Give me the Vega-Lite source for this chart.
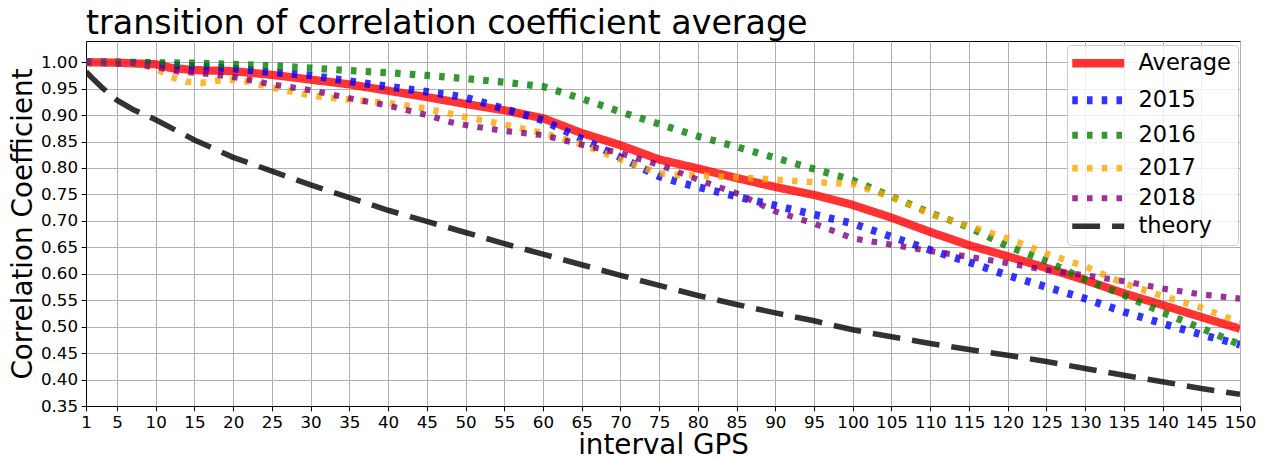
{
  "$schema": "https://vega.github.io/schema/vega-lite/v6.json",
  "width": 1154,
  "height": 365,
  "autosize": {"type": "none"},
  "padding": {"left": 86, "top": 41, "right": 25, "bottom": 53},
  "title": {"text": "transition of correlation coefficient average", "anchor": "start", "frame": "group", "font": "DejaVu Sans", "fontSize": 33.3, "fontWeight": "normal", "color": "black", "baseline": "alphabetic", "offset": 8, "dy": 34},
  "config": {
    "view": {"stroke": "black", "strokeWidth": 1},
    "font": "DejaVu Sans",
    "axis": {"labelFont": "DejaVu Sans", "labelFontSize": 16.7, "labelColor": "black", "labelOverlap": false, "labelFlush": false, "titleFont": "DejaVu Sans", "titleFontSize": 27.8, "titleFontWeight": "normal", "titleColor": "black", "domainColor": "black", "domainWidth": 1, "tickColor": "black", "tickSize": 4.9, "tickWidth": 1, "gridColor": "#b0b0b0", "gridWidth": 1, "gridOpacity": 1, "labelPadding": 3.5}
  },
  "data": {"values": [
    {"s":"Average","x":1,"y":1.0},{"s":"Average","x":5,"y":0.999},{"s":"Average","x":10,"y":0.996},{"s":"Average","x":12,"y":0.989},{"s":"Average","x":15,"y":0.985},{"s":"Average","x":20,"y":0.983},{"s":"Average","x":25,"y":0.976},{"s":"Average","x":30,"y":0.967},{"s":"Average","x":35,"y":0.958},{"s":"Average","x":40,"y":0.946},{"s":"Average","x":45,"y":0.934},{"s":"Average","x":50,"y":0.921},{"s":"Average","x":55,"y":0.909},{"s":"Average","x":60,"y":0.894},{"s":"Average","x":65,"y":0.866},{"s":"Average","x":70,"y":0.843},{"s":"Average","x":75,"y":0.816},{"s":"Average","x":80,"y":0.799},{"s":"Average","x":85,"y":0.781},{"s":"Average","x":90,"y":0.764},{"s":"Average","x":95,"y":0.749},{"s":"Average","x":100,"y":0.73},{"s":"Average","x":105,"y":0.706},{"s":"Average","x":110,"y":0.679},{"s":"Average","x":115,"y":0.654},{"s":"Average","x":120,"y":0.633},{"s":"Average","x":125,"y":0.611},{"s":"Average","x":130,"y":0.588},{"s":"Average","x":135,"y":0.563},{"s":"Average","x":140,"y":0.541},{"s":"Average","x":145,"y":0.518},{"s":"Average","x":150,"y":0.496},
    {"s":"2015","x":1,"y":1.0},{"s":"2015","x":5,"y":0.999},{"s":"2015","x":10,"y":0.996},{"s":"2015","x":15,"y":0.992},{"s":"2015","x":20,"y":0.988},{"s":"2015","x":25,"y":0.981},{"s":"2015","x":30,"y":0.975},{"s":"2015","x":35,"y":0.964},{"s":"2015","x":40,"y":0.954},{"s":"2015","x":45,"y":0.944},{"s":"2015","x":48,"y":0.938},{"s":"2015","x":50,"y":0.933},{"s":"2015","x":55,"y":0.912},{"s":"2015","x":60,"y":0.89},{"s":"2015","x":65,"y":0.855},{"s":"2015","x":70,"y":0.82},{"s":"2015","x":75,"y":0.784},{"s":"2015","x":78,"y":0.771},{"s":"2015","x":80,"y":0.764},{"s":"2015","x":85,"y":0.746},{"s":"2015","x":90,"y":0.729},{"s":"2015","x":95,"y":0.712},{"s":"2015","x":100,"y":0.695},{"s":"2015","x":105,"y":0.67},{"s":"2015","x":110,"y":0.645},{"s":"2015","x":115,"y":0.622},{"s":"2015","x":120,"y":0.597},{"s":"2015","x":125,"y":0.575},{"s":"2015","x":130,"y":0.553},{"s":"2015","x":135,"y":0.528},{"s":"2015","x":140,"y":0.506},{"s":"2015","x":145,"y":0.485},{"s":"2015","x":150,"y":0.466},
    {"s":"2016","x":1,"y":1.0},{"s":"2016","x":5,"y":1.0},{"s":"2016","x":10,"y":0.999},{"s":"2016","x":15,"y":0.998},{"s":"2016","x":20,"y":0.996},{"s":"2016","x":25,"y":0.993},{"s":"2016","x":30,"y":0.989},{"s":"2016","x":35,"y":0.984},{"s":"2016","x":40,"y":0.98},{"s":"2016","x":45,"y":0.975},{"s":"2016","x":50,"y":0.969},{"s":"2016","x":55,"y":0.962},{"s":"2016","x":60,"y":0.954},{"s":"2016","x":65,"y":0.931},{"s":"2016","x":70,"y":0.906},{"s":"2016","x":75,"y":0.883},{"s":"2016","x":80,"y":0.86},{"s":"2016","x":85,"y":0.84},{"s":"2016","x":90,"y":0.819},{"s":"2016","x":95,"y":0.798},{"s":"2016","x":100,"y":0.777},{"s":"2016","x":105,"y":0.746},{"s":"2016","x":110,"y":0.715},{"s":"2016","x":115,"y":0.688},{"s":"2016","x":120,"y":0.652},{"s":"2016","x":125,"y":0.624},{"s":"2016","x":130,"y":0.589},{"s":"2016","x":135,"y":0.56},{"s":"2016","x":140,"y":0.527},{"s":"2016","x":145,"y":0.497},{"s":"2016","x":150,"y":0.466},
    {"s":"2017","x":1,"y":1.0},{"s":"2017","x":5,"y":0.999},{"s":"2017","x":8,"y":0.995},{"s":"2017","x":10,"y":0.988},{"s":"2017","x":12,"y":0.972},{"s":"2017","x":14,"y":0.963},{"s":"2017","x":16,"y":0.961},{"s":"2017","x":18,"y":0.965},{"s":"2017","x":20,"y":0.967},{"s":"2017","x":22,"y":0.963},{"s":"2017","x":25,"y":0.952},{"s":"2017","x":30,"y":0.937},{"s":"2017","x":35,"y":0.929},{"s":"2017","x":40,"y":0.923},{"s":"2017","x":45,"y":0.912},{"s":"2017","x":50,"y":0.896},{"s":"2017","x":55,"y":0.882},{"s":"2017","x":60,"y":0.866},{"s":"2017","x":65,"y":0.845},{"s":"2017","x":70,"y":0.816},{"s":"2017","x":75,"y":0.79},{"s":"2017","x":77,"y":0.787},{"s":"2017","x":80,"y":0.786},{"s":"2017","x":85,"y":0.782},{"s":"2017","x":90,"y":0.778},{"s":"2017","x":95,"y":0.773},{"s":"2017","x":100,"y":0.77},{"s":"2017","x":105,"y":0.745},{"s":"2017","x":110,"y":0.713},{"s":"2017","x":115,"y":0.69},{"s":"2017","x":120,"y":0.667},{"s":"2017","x":125,"y":0.638},{"s":"2017","x":130,"y":0.614},{"s":"2017","x":135,"y":0.582},{"s":"2017","x":140,"y":0.558},{"s":"2017","x":145,"y":0.536},{"s":"2017","x":150,"y":0.508},
    {"s":"2018","x":1,"y":1.0},{"s":"2018","x":5,"y":0.999},{"s":"2018","x":7,"y":0.998},{"s":"2018","x":9,"y":0.993},{"s":"2018","x":11,"y":0.988},{"s":"2018","x":13,"y":0.982},{"s":"2018","x":15,"y":0.98},{"s":"2018","x":18,"y":0.976},{"s":"2018","x":20,"y":0.972},{"s":"2018","x":25,"y":0.958},{"s":"2018","x":30,"y":0.947},{"s":"2018","x":35,"y":0.932},{"s":"2018","x":40,"y":0.918},{"s":"2018","x":45,"y":0.9},{"s":"2018","x":48,"y":0.887},{"s":"2018","x":50,"y":0.881},{"s":"2018","x":55,"y":0.87},{"s":"2018","x":60,"y":0.862},{"s":"2018","x":65,"y":0.844},{"s":"2018","x":70,"y":0.828},{"s":"2018","x":75,"y":0.806},{"s":"2018","x":80,"y":0.778},{"s":"2018","x":85,"y":0.752},{"s":"2018","x":90,"y":0.718},{"s":"2018","x":95,"y":0.695},{"s":"2018","x":100,"y":0.667},{"s":"2018","x":105,"y":0.655},{"s":"2018","x":110,"y":0.643},{"s":"2018","x":115,"y":0.632},{"s":"2018","x":120,"y":0.62},{"s":"2018","x":125,"y":0.607},{"s":"2018","x":130,"y":0.597},{"s":"2018","x":135,"y":0.586},{"s":"2018","x":140,"y":0.572},{"s":"2018","x":145,"y":0.561},{"s":"2018","x":150,"y":0.553},
    {"s":"theory","x":1,"y":0.982},{"s":"theory","x":2,"y":0.967},{"s":"theory","x":3,"y":0.953},{"s":"theory","x":4,"y":0.94},{"s":"theory","x":5,"y":0.928},{"s":"theory","x":7,"y":0.911},{"s":"theory","x":10,"y":0.891},{"s":"theory","x":15,"y":0.853},{"s":"theory","x":20,"y":0.82},{"s":"theory","x":25,"y":0.794},{"s":"theory","x":30,"y":0.768},{"s":"theory","x":35,"y":0.744},{"s":"theory","x":40,"y":0.72},{"s":"theory","x":45,"y":0.699},{"s":"theory","x":50,"y":0.678},{"s":"theory","x":55,"y":0.657},{"s":"theory","x":60,"y":0.637},{"s":"theory","x":65,"y":0.617},{"s":"theory","x":70,"y":0.597},{"s":"theory","x":75,"y":0.578},{"s":"theory","x":80,"y":0.559},{"s":"theory","x":85,"y":0.542},{"s":"theory","x":90,"y":0.526},{"s":"theory","x":95,"y":0.511},{"s":"theory","x":100,"y":0.494},{"s":"theory","x":105,"y":0.481},{"s":"theory","x":110,"y":0.468},{"s":"theory","x":115,"y":0.457},{"s":"theory","x":120,"y":0.446},{"s":"theory","x":125,"y":0.434},{"s":"theory","x":130,"y":0.421},{"s":"theory","x":135,"y":0.408},{"s":"theory","x":140,"y":0.396},{"s":"theory","x":145,"y":0.383},{"s":"theory","x":150,"y":0.372}
  ]},
  "mark": {"type": "line", "clip": true, "opacity": 0.8},
  "encoding": {
    "x": {"field": "x", "type": "quantitative", "scale": {"domain": [1, 150], "nice": false, "zero": false},
      "axis": {"values": [1,5,10,15,20,25,30,35,40,45,50,55,60,65,70,75,80,85,90,95,100,105,110,115,120,125,130,135,140,145,150], "title": "interval GPS", "titlePadding": 0}},
    "y": {"field": "y", "type": "quantitative", "scale": {"domain": [0.35, 1.04], "nice": false, "zero": false},
      "axis": {"values": [0.35,0.4,0.45,0.5,0.55,0.6,0.65,0.7,0.75,0.8,0.85,0.9,0.95,1.0], "format": ".2f", "title": "Correlation Coefficient", "titlePadding": 3}},
    "color": {"field": "s", "type": "nominal",
      "scale": {"domain": ["Average","2015","2016","2017","2018","theory"], "range": ["#ff0000","#0000ff","#008000","#ffa500","#800080","#000000"]},
      "legend": {"title": null, "orient": "none", "legendX": 981, "legendY": 4, "symbolType": "M-2.5,0H7.5", "symbolSize": 108, "symbolOpacity": 0.8, "labelFont": "DejaVu Sans", "labelFontSize": 22.5, "labelColor": "black", "labelOffset": 42, "labelLimit": 300, "rowPadding": 4, "padding": 7, "fillColor": "rgba(255,255,255,0.8)", "strokeColor": "#cccccc", "cornerRadius": 4}},
    "strokeDash": {"field": "s", "type": "nominal",
      "scale": {"domain": ["Average","2015","2016","2017","2018","theory"], "range": [[1,0],[5.56,9.17],[5.56,9.17],[5.56,9.17],[5.56,9.17],[27.8,12]]},
      "legend": {"title": null, "orient": "none", "legendX": 981, "legendY": 4, "symbolType": "M-2.5,0H7.5", "symbolSize": 108, "symbolOpacity": 0.8, "labelFont": "DejaVu Sans", "labelFontSize": 22.5, "labelColor": "black", "labelOffset": 42, "labelLimit": 300, "rowPadding": 4, "padding": 7, "fillColor": "rgba(255,255,255,0.8)", "strokeColor": "#cccccc", "cornerRadius": 4}},
    "strokeWidth": {"field": "s", "type": "nominal",
      "scale": {"domain": ["Average","2015","2016","2017","2018","theory"], "range": [8.3,5.56,5.56,5.56,5.56,7.5]},
      "legend": {"title": null, "orient": "none", "legendX": 981, "legendY": 4, "symbolType": "M-2.5,0H7.5", "symbolSize": 108, "symbolOpacity": 0.8, "labelFont": "DejaVu Sans", "labelFontSize": 22.5, "labelColor": "black", "labelOffset": 42, "labelLimit": 300, "rowPadding": 4, "padding": 7, "fillColor": "rgba(255,255,255,0.8)", "strokeColor": "#cccccc", "cornerRadius": 4}}
  }
}
